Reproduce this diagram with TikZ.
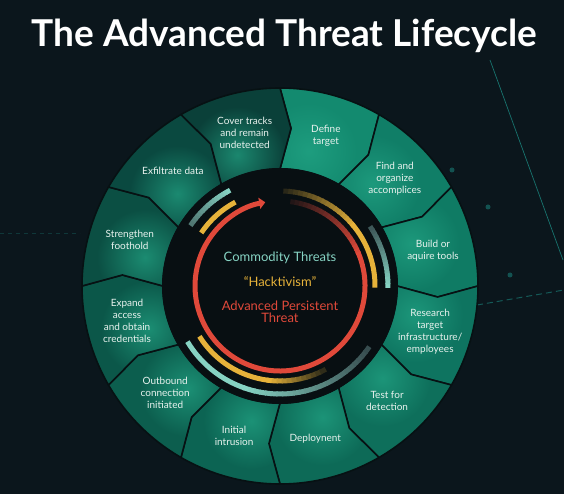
\documentclass[tikz,border=0pt]{standalone}
\usepackage{fontspec}
\setmainfont{Lato}
\usetikzlibrary{arrows.meta}
\definecolor{bg}{HTML}{0B161C}
\definecolor{ringline}{HTML}{071113}
\definecolor{core}{HTML}{080F12}
\definecolor{apt}{HTML}{E0493A}
\definecolor{hack}{HTML}{E6B23A}
\definecolor{comm}{HTML}{86D3C3}
\definecolor{greyarc}{HTML}{34474A}
\definecolor{lbltext}{HTML}{E8F2EE}
\definecolor{glow}{HTML}{22A585}
\definecolor{sA}{HTML}{138A6F}
\definecolor{sB}{HTML}{107E67}
\definecolor{sC}{HTML}{0F7B64}
\definecolor{sD}{HTML}{0E7460}
\definecolor{sE}{HTML}{0E6F5B}
\definecolor{sF}{HTML}{0D6A57}
\definecolor{sG}{HTML}{0C6453}
\definecolor{sH}{HTML}{0C5E4E}
\definecolor{sI}{HTML}{0B5749}
\definecolor{sJ}{HTML}{0B4F43}
\definecolor{sK}{HTML}{0A4940}
\definecolor{sL}{HTML}{0A4039}
\definecolor{deco}{HTML}{1E9C92}
\begin{document}
\begin{tikzpicture}[x=1pt,y=1pt,
  seg/.style={line width=1.6pt, draw=ringline, line join=round},
  lbl/.style={text=lbltext, font=\fontsize{10}{12}\selectfont, align=center, inner sep=0pt},
  core text/.style={font=\fontsize{13}{13}\selectfont, align=center, inner sep=0pt},
  band/.style={line width=5pt}
]
\fill[bg] (-280,-208) rectangle (284,286);
\useasboundingbox (-280,-208) rectangle (284,286);

% background decoration
\draw[deco, opacity=0.7, line width=0.7pt] (210,226) -- (283,26);
\draw[deco, opacity=0.5, line width=1pt, dash pattern=on 6pt off 4pt] (197,-19) -- (284,-4);
\draw[deco, opacity=0.25, line width=0.8pt, dash pattern=on 4pt off 4pt] (-280,53) -- (-200,53);
\foreach \p in {(172,116),(208,79),(230,11)}
  \fill[deco, opacity=0.45] \p circle (2.5);

% title
\node[text=white, font=\fontsize{37}{40}\selectfont\bfseries, anchor=base] (title) at (4.5,239) {The Advanced Threat Lifecycle};

% ring segments
\foreach \k/\col/\txt in {
  0/sA/{Define\\target},
  1/sB/{Find and\\organize\\accomplices},
  2/sC/{Build or\\aquire tools},
  3/sD/{Research\\target\\infrastructure/\\employees},
  4/sE/{Test for\\detection},
  5/sF/{Deploynent},
  6/sG/{Initial\\intrusion},
  7/sH/{Outbound\\connection\\initiated},
  8/sI/{Expand\\access\\and obtain\\credentials},
  9/sJ/{Strengthen\\foothold},
  10/sK/{Exfiltrate data},
  11/sL/{Cover tracks\\and remain\\undetected}} {
  \pgfmathsetmacro\aa{90-30*\k}
  \pgfmathsetmacro\ab{60-30*\k}
  \pgfmathsetmacro\am{73-30*\k}
  \pgfmathsetmacro\ag{78-30*\k}
  \begin{scope}
    \clip (\aa:117) -- (\aa-4:158) -- (\aa:198)
       arc[start angle=\aa, end angle=\ab, radius=198]
       -- (\ab-4:158) -- (\ab:117)
       arc[start angle=\ab, end angle=\aa, radius=117] -- cycle;
    \fill[\col] (0,0) circle (200);
    \shade[inner color=glow!70!\col, outer color=\col] (\ag:138) circle (48);
  \end{scope}
  \draw[seg] (\aa:117) -- (\aa-4:158) -- (\aa:198)
     arc[start angle=\aa, end angle=\ab, radius=198]
     -- (\ab-4:158) -- (\ab:117)
     arc[start angle=\ab, end angle=\aa, radius=117] -- cycle;
  \node[lbl] (l\k) at (\am:157) {\txt};
}

% dark core
\fill[core] (0,0) circle (118);

% red APT ring with fading start and arrow
\foreach \i in {0,...,19} {
  \pgfmathsetmacro\p{12+4.4*\i}
  \draw[band, color=apt!\p!core] (83-3*\i:85) arc[start angle=83-3*\i, end angle=79.2-3*\i, radius=85];
}
\draw[band, apt, -{Triangle[length=6pt,width=11pt]}] (23.5:85) arc[start angle=23.5, end angle=-260, radius=85];

% yellow hacktivism arcs
\foreach \i in {0,...,15} {
  \pgfmathsetmacro\p{15+5.3*\i}
  \draw[band, color=hack!\p!core] (88-3*\i:95) arc[start angle=88-3*\i, end angle=84.2-3*\i, radius=95];
}
\draw[band, hack] (41:95) arc[start angle=41, end angle=-1, radius=95];
\draw[band, hack] (146:95) arc[start angle=146, end angle=118, radius=95];
\draw[band, hack] (212:95) arc[start angle=212, end angle=263, radius=95];
\foreach \i in {0,...,11} {
  \pgfmathsetmacro\p{100-7.5*\i}
  \draw[band, color=hack!\p!core] (262+3*\i:95) arc[start angle=262+3*\i, end angle=265.8+3*\i, radius=95];
}

% teal commodity arcs
\foreach \i in {0,...,13} {
  \pgfmathsetmacro\p{100-5*\i}
  \draw[band, color=comm!\p!greyarc] (117.5+2*\i:108) arc[start angle=117.5+2*\i, end angle=120+2*\i, radius=108];
}
\foreach \i in {0,...,16} {
  \pgfmathsetmacro\p{100-5.5*\i}
  \draw[band, color=comm!\p!greyarc] (-1+2*\i:108) arc[start angle=-1+2*\i, end angle=1.5+2*\i, radius=108];
}
\draw[band, comm] (211:108) arc[start angle=211, end angle=251, radius=108];
\foreach \i in {0,...,24} {
  \pgfmathsetmacro\p{100-4*\i}
  \draw[band, color=comm!\p!greyarc] (250+3*\i:108) arc[start angle=250+3*\i, end angle=253.8+3*\i, radius=108];
}

% core texts
\node[core text, text=comm] (ct) at (0,28) {Commodity Threats};
\node[core text, text=hack] (ht) at (0,4) {“Hacktivism”};
\node[core text, text=apt, font=\fontsize{13}{12}\selectfont] (at) at (0,-26) {Advanced Persistent\\Threat};
\end{tikzpicture}
\end{document}
